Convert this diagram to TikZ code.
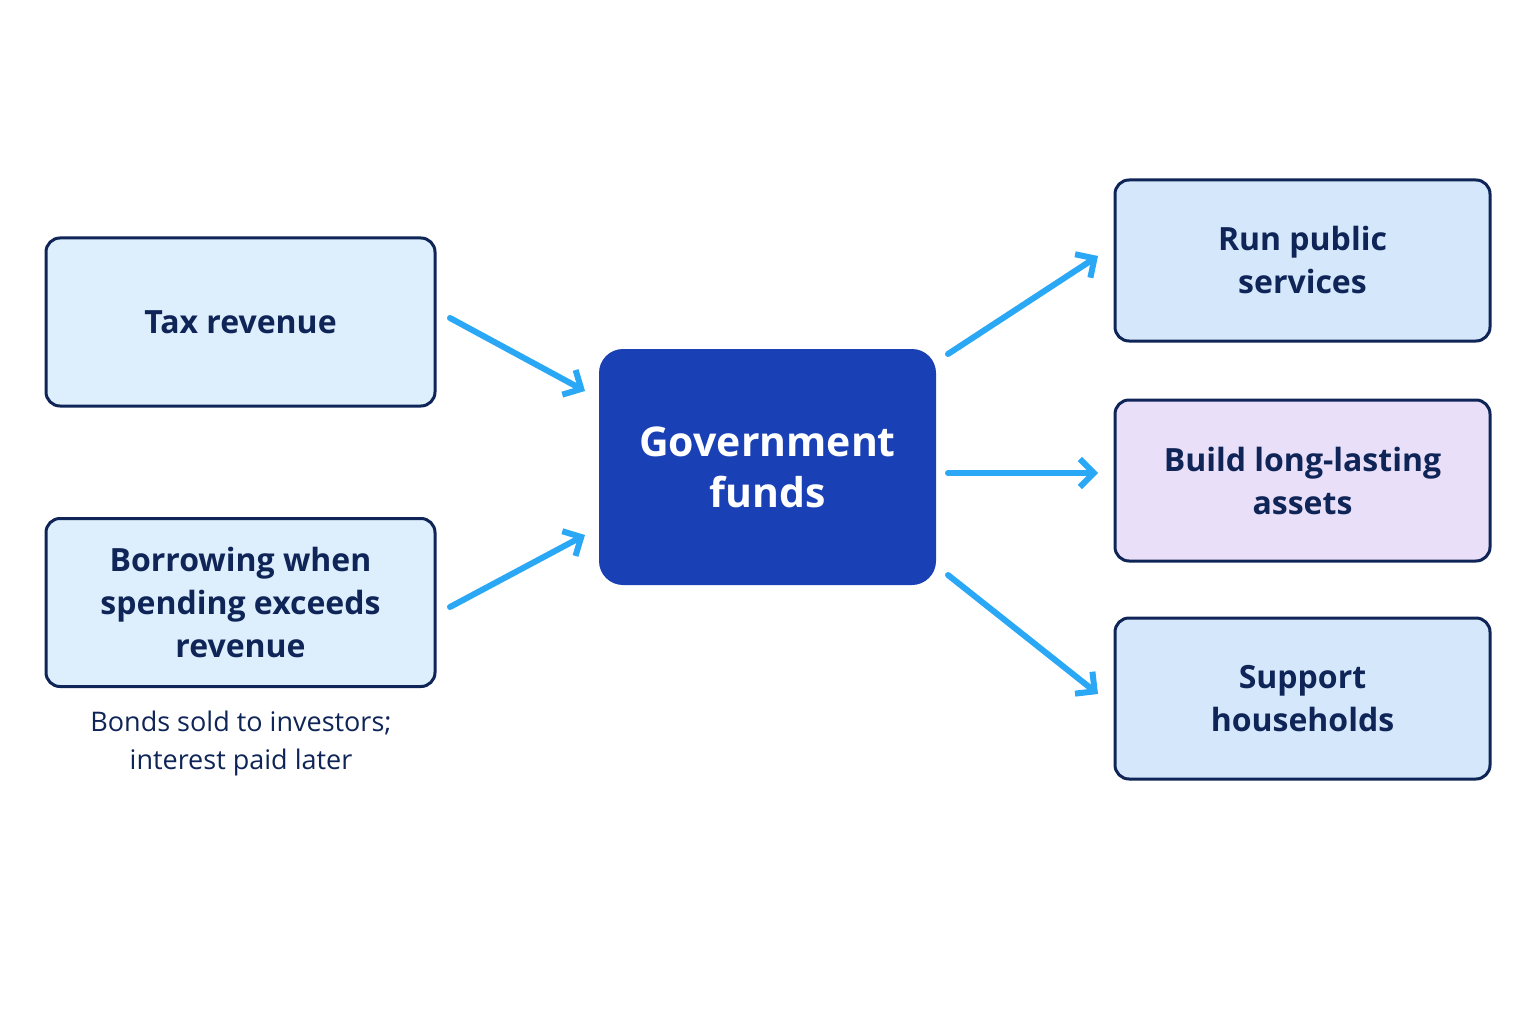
\documentclass[tikz,border=0pt]{standalone}
\usepackage{fontspec}
\setmainfont{Open Sans}
\usetikzlibrary{arrows.meta}
\definecolor{navy}{HTML}{0F2557}
\definecolor{lb}{HTML}{DDEEFC}
\definecolor{lb2}{HTML}{D5E7FA}
\definecolor{lav}{HTML}{EADFF8}
\definecolor{cen}{HTML}{1A40B5}
\definecolor{arr}{HTML}{2AA8F5}
\begin{document}
\begin{tikzpicture}[x=1pt,y=-1pt,
 box/.style={draw=navy,line width=3pt,rounded corners=14pt,minimum width=389pt,minimum height=168pt,align=center,text=navy,font=\fontsize{32}{43}\selectfont\bfseries},
 rbox/.style={box,minimum width=375pt,minimum height=161pt},
 ar/.style={draw=arr,line width=6pt,line cap=round,-{Straight Barb[length=14pt,width=28pt,line width=6pt]}}]
\useasboundingbox[fill=white] (0,0) rectangle (1536,1024);
\node[box,fill=lb] (tax) at (240.5,322) {Tax revenue};
\node[box,fill=lb] (bor) at (240.5,602.5) {Borrowing when\\spending exceeds\\revenue};
\node[align=center,text=navy,font=\fontsize{27}{38}\selectfont] (cap) at (241,743) {Bonds sold to investors;\\interest paid later};
\node[fill=cen,rounded corners=24pt,minimum width=337pt,minimum height=236pt,align=center,text=white,font=\fontsize{41}{51}\selectfont\bfseries] (gov) at (767.5,467) {Government\\funds};
\node[rbox,fill=lb2] (run) at (1302.5,260.5) {Run public\\services};
\node[rbox,fill=lav] (bld) at (1302.5,480.5) {Build long-lasting\\assets};
\node[rbox,fill=lb2] (sup) at (1302.5,698.5) {Support\\households};
\coordinate (a1) at (450,318); \coordinate (b1) at (585,391);
\coordinate (a2) at (450,607); \coordinate (b2) at (585,535);
\coordinate (c1) at (948,354); \coordinate (d1) at (1098,256);
\coordinate (c2) at (948,473); \coordinate (d2) at (1098,473);
\coordinate (c3) at (948,575); \coordinate (d3) at (1098,694);
\draw[ar] (a1) -- (b1);
\draw[ar] (a2) -- (b2);
\draw[ar] (c1) -- (d1);
\draw[ar] (c2) -- (d2);
\draw[ar] (c3) -- (d3);
\end{tikzpicture}
\end{document}
